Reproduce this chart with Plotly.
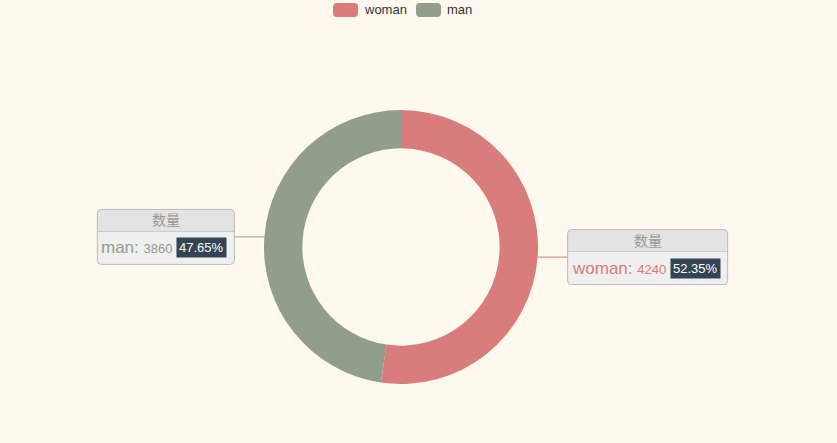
import math
import plotly.graph_objects as go

# ---- data ----
labels = ["woman", "man"]
values = [4240, 3860]
colors = ["#d87c7c", "#919e8b"]
header_text = "数量"

# ---- layout constants ----
W, H = 837, 443
cx, cy, R = 401, 247, 137
hole = 0.72
bg = "#fef8ef"
FONT = "Liberation Sans, Noto Sans CJK SC, sans-serif"
box_w = {"woman": 160, "man": 137}
box_h = 55
head_h = 22
line_len = 30


def X(px):
    return px / W


def Y(py):
    return 1 - py / H


def rrect(x0, y0, x1, y1, r, top=True, bottom=True):
    rt = r if top else 0
    rb = r if bottom else 0
    p = f"M {X(x0+rt)},{Y(y0)} L {X(x1-rt)},{Y(y0)} "
    p += f"Q {X(x1)},{Y(y0)} {X(x1)},{Y(y0+rt)} " if rt else ""
    p += f"L {X(x1)},{Y(y1-rb)} "
    p += f"Q {X(x1)},{Y(y1)} {X(x1-rb)},{Y(y1)} " if rb else ""
    p += f"L {X(x0+rb)},{Y(y1)} "
    p += f"Q {X(x0)},{Y(y1)} {X(x0)},{Y(y1-rb)} " if rb else ""
    p += f"L {X(x0)},{Y(y0+rt)} "
    p += f"Q {X(x0)},{Y(y0)} {X(x0+rt)},{Y(y0)} " if rt else ""
    return p + "Z"


fig = go.Figure(
    go.Pie(
        labels=labels,
        values=values,
        hole=hole,
        sort=False,
        direction="clockwise",
        rotation=0,
        marker=dict(colors=colors, line=dict(width=0)),
        textinfo="none",
        hoverinfo="label+value+percent",
        showlegend=False,
        domain=dict(x=[X(cx - R), X(cx + R)], y=[Y(cy + R), Y(cy - R)]),
    )
)

shapes = []
annotations = []
total = sum(values)
cum = 0
for lab, val, col in zip(labels, values, colors):
    mid = (cum + val / 2) / total * 2 * math.pi
    cum += val
    ex = cx + R * math.sin(mid)
    ey = cy - R * math.cos(mid)
    right = math.sin(mid) > 0
    lx = ex + line_len if right else ex - line_len
    shapes.append(dict(type="line", xref="paper", yref="paper",
                       x0=X(ex), y0=Y(ey), x1=X(lx), y1=Y(ey),
                       line=dict(color=col, width=1)))
    bw = box_w[lab]
    bx0, bx1 = (lx, lx + bw) if right else (lx - bw, lx)
    by0, by1 = ey - box_h / 2, ey + box_h / 2
    shapes.append(dict(type="path", xref="paper", yref="paper",
                       path=rrect(bx0, by0, bx1, by1, 4),
                       fillcolor="#efefef", line=dict(width=0)))
    shapes.append(dict(type="path", xref="paper", yref="paper",
                       path=rrect(bx0, by0, bx1, by0 + head_h, 4, bottom=False),
                       fillcolor="#e3e3e3", line=dict(width=0)))
    shapes.append(dict(type="line", xref="paper", yref="paper",
                       x0=X(bx0), y0=Y(by0 + head_h), x1=X(bx1), y1=Y(by0 + head_h),
                       line=dict(color="#cccccc", width=1)))
    shapes.append(dict(type="path", xref="paper", yref="paper",
                       path=rrect(bx0, by0, bx1, by1, 4),
                       fillcolor="rgba(0,0,0,0)", line=dict(color="#bbbbbb", width=1)))
    annotations.append(dict(xref="paper", yref="paper", x=X((bx0 + bx1) / 2),
                            y=Y(by0 + head_h / 2), text=header_text, showarrow=False,
                            xanchor="center", yanchor="middle",
                            font=dict(family=FONT, size=14, color="#999999")))
    body_c = (by0 + head_h + by1) / 2
    pct = val / total * 100
    annotations.append(dict(xref="paper", yref="paper", x=X(bx0 + 2), y=Y(body_c),
                            text=f'<span style="font-size:17px">{lab}: </span>'
                                 f'<span style="font-size:13px">{val}</span>',
                            showarrow=False, xanchor="left", yanchor="middle",
                            font=dict(family=FONT, size=17, color=col)))
    annotations.append(dict(xref="paper", yref="paper", x=X(bx1 - 7), y=Y(body_c),
                            text=f"{pct:.2f}%", showarrow=False,
                            xanchor="right", yanchor="middle", bgcolor="#334455",
                            borderpad=2,
                            font=dict(family=FONT, size=13, color="#ffffff")))

# custom legend
lgx = 333
for lab, col in zip(labels, colors):
    shapes.append(dict(type="path", xref="paper", yref="paper",
                       path=rrect(lgx, 3, lgx + 25, 17, 4),
                       fillcolor=col, line=dict(width=0)))
    annotations.append(dict(xref="paper", yref="paper", x=X(lgx + 29), y=Y(10),
                            text=lab, showarrow=False, xanchor="left", yanchor="middle",
                            font=dict(family=FONT, size=13, color="#333333")))
    lgx += 25 + 5 + len(lab) * 8.6 + 10

fig.update_layout(
    width=W, height=H,
    margin=dict(l=0, r=0, t=0, b=0),
    paper_bgcolor=bg, plot_bgcolor=bg,
    shapes=shapes, annotations=annotations,
    showlegend=False,
)

fig.write_html(
    "out.html",
    config={"displayModeBar": False},
    post_script="document.body.style.margin='0';document.body.style.background='%s';" % bg,
)
